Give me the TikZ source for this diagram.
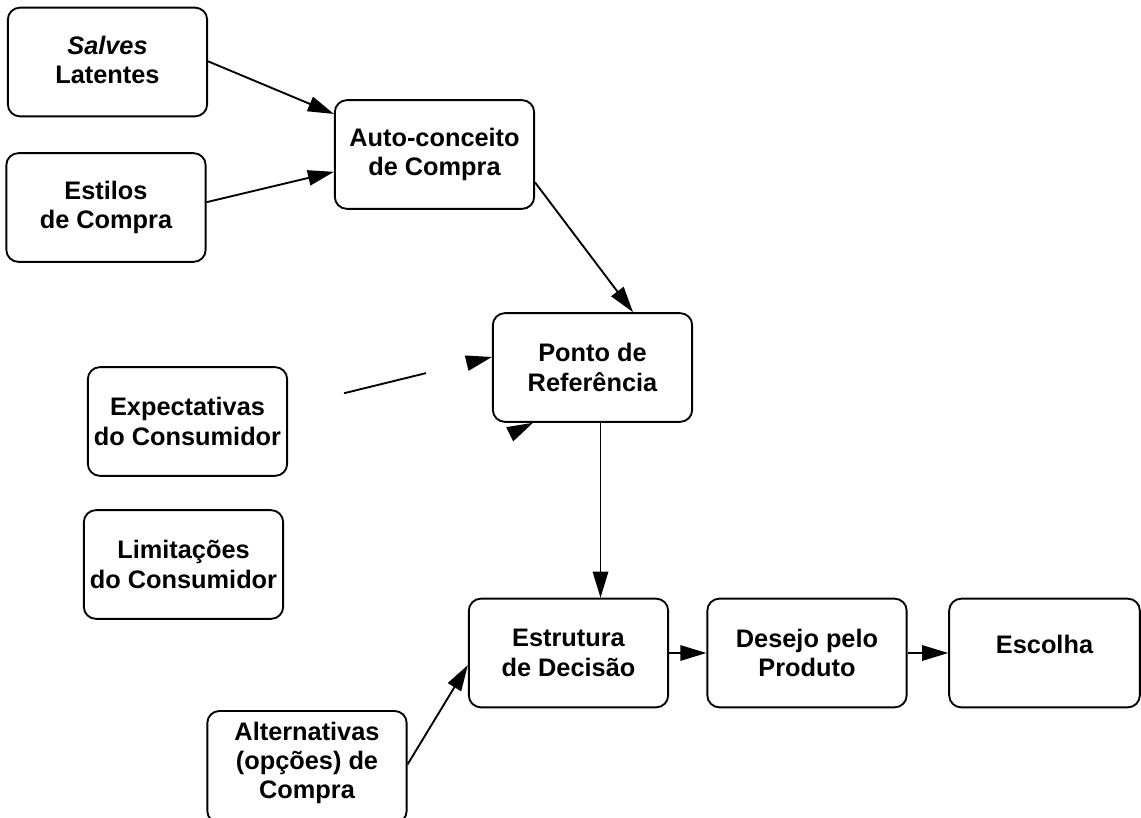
\documentclass[tikz,border=0pt]{standalone}
\usepackage{fontspec}
\setmainfont{Liberation Sans}
\usetikzlibrary{arrows.meta}

\tikzset{
  box/.style={draw, line width=1.4pt, rounded corners=9pt, inner sep=0pt,
    minimum width=149.5pt, minimum height=81.5pt, align=center,
    font=\bfseries\fontsize{19}{22}\selectfont},
  arr/.style={line width=1.4pt, -{Triangle[length=19.5pt,width=11.5pt]}},
}

\begin{document}
\begin{tikzpicture}[x=0.75pt,y=-0.75pt]
  \useasboundingbox (0,0) rectangle (1141,817);

  % boxes
  \node[box, text depth=3pt] (salves) at (107.5,62) {\textit{Salves}\\Latentes};
  \node[box] (estilos) at (106,207.5) {Estilos\\de Compra};
  \node[box] (auto)    at (434.5,154.5) {Auto-conceito\\de Compra};
  \node[box] (ponto)   at (592.5,367.5) {Ponto de\\Referência};
  \node[box] (expect)  at (187.5,421.5) {Expectativas\\do Consumidor};
  \node[box] (limit)   at (183.5,564.5) {Limitações\\do Consumidor};
  \node[box] (estrut)  at (568.5,653) {Estrutura\\de Decisão};
  \node[box] (desejo)  at (807,653)   {Desejo pelo\\Produto};
  \node[box, minimum width=143pt, text depth=12.75pt] (escolha) at (1044.5,653) {Escolha};
  \node[box, minimum height=84pt, text depth=10pt] (altern) at (307,767) {Alternativas\\(opções) de\\Compra};

  % connectors
  \draw[arr] ([yshift=0.5pt]salves.east) -- ([yshift=30.4pt]auto.west);
  \draw[arr] ([yshift=4pt]estilos.east) -- ([yshift=-13pt]auto.west);
  \draw[arr] ([yshift=-21pt]auto.east) -- ([xshift=30.4pt]ponto.north);
  % partly drawn links into the reference point
  \draw[arr, dash pattern=on 0pt off 43.2pt on 63.3pt off 400pt]
    ([yshift=10.9pt]expect.east) -- ([yshift=7.9pt]ponto.west);
  \draw[arr, dash pattern=on 0pt off 500pt]
    ([yshift=14.25pt]limit.east) -- ([xshift=-44.6pt]ponto.south);
  \draw[arr] ([xshift=6pt]ponto.south) -- ([xshift=6pt]ponto.south |- estrut.north);
  \draw[arr] ([yshift=2pt]altern.east) -- ([yshift=-9pt]estrut.west);
  \draw[arr] (estrut.east) -- (desejo.west);
  \draw[arr] (desejo.east) -- (escolha.west);
\end{tikzpicture}
\end{document}
